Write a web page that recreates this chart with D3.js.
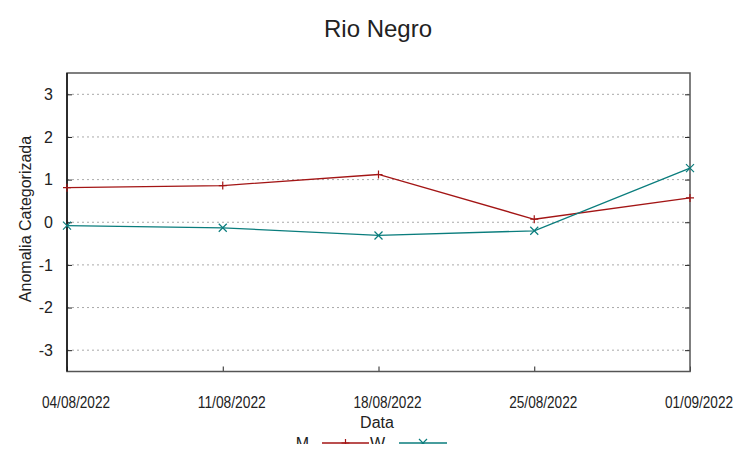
<!DOCTYPE html>
<html><head><meta charset="utf-8">
<script src="https://cdn.jsdelivr.net/npm/d3@7"></script>
<style>body{margin:0;background:#fff}svg{display:block}text{font-family:"Liberation Sans",Arial,sans-serif;fill:#222}</style>
</head><body><svg id="c" width="753" height="459"></svg>
<script>
const dates = ["04/08/2022","11/08/2022","18/08/2022","25/08/2022","01/09/2022"];
const seriesM = [0.81, 0.86, 1.12, 0.07, 0.57];
const seriesW = [-0.08, -0.13, -0.31, -0.20, 1.27];
const yTicks = [-3,-2,-1,0,1,2,3];
const seriesNames = ["M","W"];
const colors = ["#a31515","#0a7d7d"];

const W=753,H=459, L=67, R=690, T=73, B=371.5;
const svg=d3.select("#c");
const parse=d3.timeParse("%d/%m/%Y");
const x=d3.scaleTime().domain([parse(dates[0]),parse(dates[dates.length-1])]).range([L,R]);
const y=d3.scaleLinear().domain([-3.5,3.5]).range([B,T]);

// grid
svg.append("g").selectAll("line").data(yTicks).join("line")
 .attr("x1",L).attr("x2",R).attr("y1",d=>y(d)).attr("y2",d=>y(d))
 .attr("stroke","#aaa").attr("stroke-width",1).attr("stroke-dasharray","2,3");

// axes ticks
const yl=svg.append("g").attr("transform",`translate(${L},0)`).call(d3.axisRight(y).tickValues(yTicks).tickSize(5).tickFormat(""));
const yr=svg.append("g").attr("transform",`translate(${R},0)`).call(d3.axisLeft(y).tickValues(yTicks).tickSize(5).tickFormat(""));
const xb=svg.append("g").attr("transform",`translate(0,${B})`).call(d3.axisTop(x).tickValues(dates.map(parse)).tickSize(5).tickFormat(""));
[yl,yr,xb].forEach(g=>{g.select(".domain").remove();g.selectAll("line").attr("stroke","#222");});

// tick labels
svg.append("g").selectAll("text").data(yTicks).join("text")
 .attr("x",53).attr("y",d=>y(d)).attr("dy","0.36em").attr("text-anchor","end")
 .style("font-size","16px").text(d=>d);
svg.append("g").selectAll("text").data(dates).join("text")
 .attr("x",d=>x(parse(d))+9).attr("y",408).attr("text-anchor","middle")
 .style("font-size","16px").attr("textLength",68).attr("lengthAdjust","spacingAndGlyphs").text(d=>d);

// border
svg.append("rect").attr("x",L).attr("y",T).attr("width",R-L).attr("height",B-T)
 .attr("fill","none").attr("stroke","#555").attr("stroke-width",1.5);
svg.append("line").attr("x1",L).attr("x2",L).attr("y1",T).attr("y2",B).attr("stroke","#111").attr("stroke-width",1.5);

// lines
const line=d3.line().x((d,i)=>x(parse(dates[i]))).y(d=>y(d));
[seriesM,seriesW].forEach((s,k)=>{
  svg.append("path").datum(s).attr("d",line).attr("fill","none").attr("stroke",colors[k]).attr("stroke-width",1.3);
});
function marker(g,cx,cy,k){
  const r=4;
  if(k===0){
    g.append("path").attr("d",`M${cx-r},${cy}H${cx+r}M${cx},${cy-r}V${cy+r}`).attr("stroke",colors[k]).attr("stroke-width",1.2);
  } else {
    g.append("path").attr("d",`M${cx-r},${cy-r}L${cx+r},${cy+r}M${cx-r},${cy+r}L${cx+r},${cy-r}`).attr("stroke",colors[k]).attr("stroke-width",1.2);
  }
}
const mg=svg.append("g");
[seriesM,seriesW].forEach((s,k)=>s.forEach((v,i)=>marker(mg,x(parse(dates[i])),y(v),k)));

// title & labels
svg.append("text").attr("x",378).attr("y",37).attr("text-anchor","middle").style("font-size","24px").text("Rio Negro");
svg.append("text").attr("x",377).attr("y",428).attr("text-anchor","middle").style("font-size","16px").text("Data");
svg.append("text").attr("transform","translate(31,219) rotate(-90)").attr("text-anchor","middle").style("font-size","16px").text("Anomalia Categorizada");

// legend (clipped)
svg.append("clipPath").attr("id","lc").append("rect").attr("x",0).attr("y",0).attr("width",W).attr("height",444);
const lg=svg.append("g").attr("clip-path","url(#lc)");
const legX=[[309,322,369],[385,399,447]];
seriesNames.forEach((n,k)=>{
  const [tx,x1,x2]=legX[k];
  lg.append("text").attr("x",tx).attr("y",449).attr("text-anchor","end").style("font-size","16px").text(n);
  lg.append("line").attr("x1",x1).attr("x2",x2).attr("y1",443).attr("y2",443).attr("stroke",colors[k]).attr("stroke-width",1.3);
  marker(lg,(x1+x2)/2,443,k);
});
</script></body></html>
